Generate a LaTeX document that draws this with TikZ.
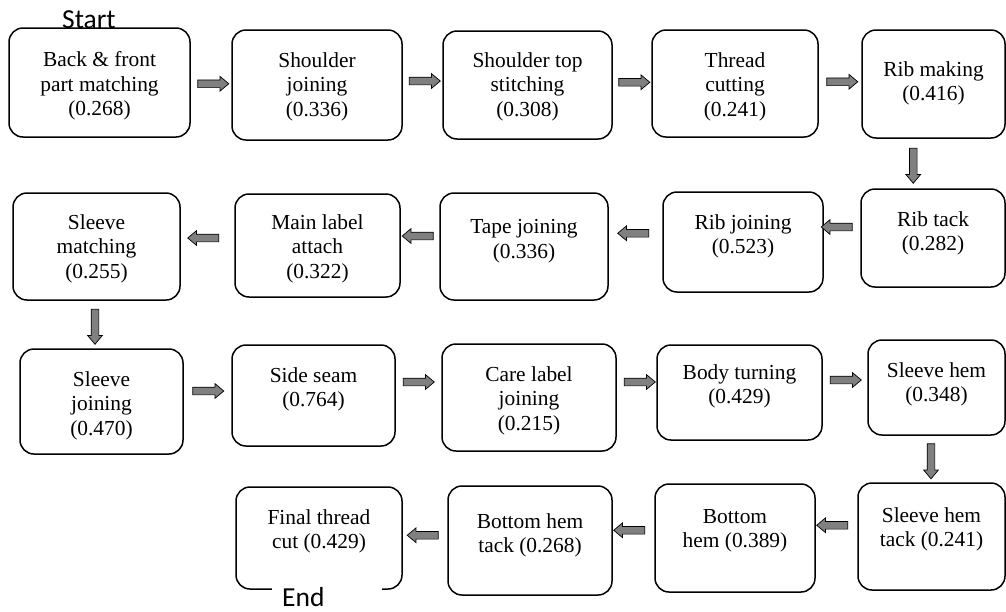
\documentclass[tikz,border=0pt]{standalone}
\usepackage{fontspec}
\setmainfont{Liberation Serif}
\newfontfamily\termfont{Carlito}
\usetikzlibrary{shapes.arrows,fit,calc}

\tikzset{
  procbox/.style={draw=black, line width=1.5pt, rounded corners=14pt, inner sep=0pt},
  proctext/.style={font=\fontsize{21.4}{24.5}\selectfont, align=center, anchor=north, inner sep=0pt},
  blockarrow/.style={single arrow, draw=black, fill=black!50, line width=0.7pt,
    single arrow head extend=3.5pt, single arrow tip angle=80},
  toright/.style={blockarrow, shape border rotate=0, inner xsep=0pt, inner ysep=3.5pt, minimum height=31pt},
  toleft/.style={blockarrow, shape border rotate=180, inner xsep=0pt, inner ysep=3.5pt, minimum height=31pt},
  todown/.style={blockarrow, shape border rotate=270, inner xsep=3.5pt, inner ysep=0pt, minimum height=35pt},
  termlabel/.style={font=\termfont\fontsize{27.5}{30}\selectfont, inner sep=0pt},
}

\newcommand\procstep[7]{%
  \node[procbox, fit={(#2,#3) (#4,#5)}] (#1) {};
  \node[proctext] (#1t) at ([yshift=-#6pt]#1.north) {#7};
}

\begin{document}
\begin{tikzpicture}[x=1pt, y=-1pt]
\fill[white] (0,0) rectangle (1006,611);
\useasboundingbox (0,0) rectangle (1006,611);

% row 1
\procstep{b1}{9}{28}{190}{137}{24}{Back \& front\\part matching\\(0.268)}
\procstep{b2}{232}{30}{402}{140}{23}{Shoulder\\joining\\(0.336)}
\procstep{b3}{443}{31}{612}{139}{22}{Shoulder top\\stitching\\(0.308)}
\procstep{b4}{652}{30}{818}{137}{23}{Thread\\cutting\\(0.241)}
\procstep{b5}{862}{30}{1005}{138}{32}{Rib making\\(0.416)}
% row 2
\procstep{b6}{861}{189}{1005}{287}{23}{Rib tack\\(0.282)}
\procstep{b7}{663}{192}{823}{292}{23}{Rib joining\\(0.523)}
\procstep{b8}{440}{193}{608}{300}{27}{Tape joining\\(0.336)}
\procstep{b9}{235}{194}{400}{297}{21}{Main label\\attach\\(0.322)}
\procstep{b10}{13}{193}{180}{300}{22}{Sleeve\\matching\\(0.255)}
% row 3
\procstep{b11}{20}{349}{183}{454}{23}{Sleeve\\joining\\(0.470)}
\procstep{b12}{232}{345}{395}{446}{23}{Side seam\\(0.764)}
\procstep{b13}{442}{344}{616}{451}{23}{Care label\\joining\\(0.215)}
\procstep{b14}{657}{345}{822}{440}{20}{Body turning\\(0.429)}
\procstep{b15}{868}{340}{1005}{435}{23}{Sleeve hem\\(0.348)}
% row 4
\procstep{b16}{858}{483}{1005}{590}{25}{Sleeve hem\\tack (0.241)}
\procstep{b17}{655}{484}{815}{592}{26}{Bottom\\hem (0.389)}
\procstep{b18}{448}{486}{612}{595}{28}{Bottom hem\\tack (0.268)}
\procstep{b19}{236}{487}{402}{589}{23}{Final thread\\cut (0.429)}

% connectors
\node[toright] (a1) at ($(b1.east)!0.5!(b2.west)$) {};
\node[toright, yshift=4pt] (a2) at ($(b2.east)!0.5!(b3.west)$) {};
\node[toright, yshift=2pt] (a3) at ($(b3.east)!0.5!(b4.west)$) {};
\node[toright, yshift=2pt] (a4) at ($(b4.east)!0.5!(b5.west)$) {};
\node[todown, xshift=-20pt] (a5) at ($(b5.south)!0.5!(b6.north)$) {};
\node[toleft, yshift=13pt, xshift=-3pt] (a6) at ($(b6.west)!0.5!(b7.east)$) {};
\node[toleft, yshift=11pt] (a7) at ($(b7.west)!0.5!(b8.east)$) {};
\node[toleft, yshift=10pt] (a8) at ($(b8.west)!0.5!(b9.east)$) {};
\node[toleft, yshift=8pt, xshift=-2pt] (a9) at ($(b9.west)!0.5!(b10.east)$) {};
\node[todown, xshift=-4pt] (a10) at ($(b10.south)!0.5!(b11.north)$) {};
\node[toright, yshift=7.5pt, xshift=-1.5pt] (a11) at ($(b11.east)!0.5!(b12.west)$) {};
\node[toright, yshift=14.5pt, xshift=-2pt] (a12) at ($(b12.east)!0.5!(b13.west)$) {};
\node[toright, yshift=13pt, xshift=1pt] (a13) at ($(b13.east)!0.5!(b14.west)$) {};
\node[toright, yshift=10pt, xshift=-1.5pt] (a14) at ($(b14.east)!0.5!(b15.west)$) {};
\node[todown, xshift=-3pt] (a15) at ($(b15.south)!0.5!(b16.north)$) {};
\node[toleft, yshift=12pt, xshift=-2pt] (a16) at ($(b16.west)!0.5!(b17.east)$) {};
\node[toleft, yshift=9pt, xshift=-2pt] (a17) at ($(b17.west)!0.5!(b18.east)$) {};
\node[toleft, yshift=4pt] (a18) at ($(b18.west)!0.5!(b19.east)$) {};

% start / end labels
\node[termlabel, anchor=base west] (start) at (62,28) {Start};
\node[termlabel, anchor=base west, fill=white, text width=90pt, text height=20pt, text depth=0pt, inner xsep=10pt, inner ysep=0pt] (end) at (272,606) {End};
\end{tikzpicture}
\end{document}
